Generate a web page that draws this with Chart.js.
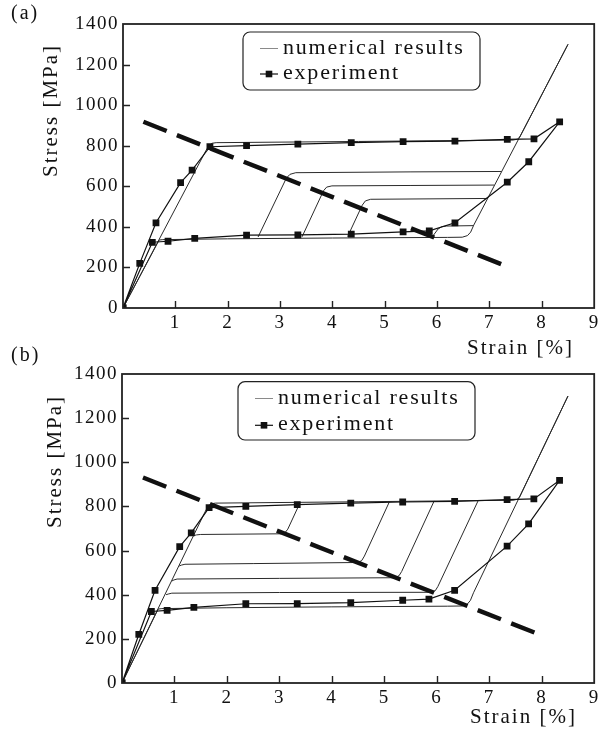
<!DOCTYPE html>
<html><head><meta charset="utf-8">
<script src="https://cdn.jsdelivr.net/npm/chart.js@4/dist/chart.umd.min.js"></script>
<style>
html,body{margin:0;padding:0;background:#fff;width:599px;height:736px;overflow:hidden;}
canvas{position:absolute;left:0;}
#ca{top:0}
#cb{top:340px}
</style></head><body>
<canvas id="ca" width="599" height="370"></canvas>
<canvas id="cb" width="599" height="396"></canvas>
<script>
// ---- axis / text ----
const xTickValues = [0,1,2,3,4,5,6,7,8,9];
const yTickValues = [0,200,400,600,800,1000,1200,1400];
const xTitle = 'Strain [%]';
const yTitle = 'Stress [MPa]';
const legendLabels = ['numerical results','experiment'];
const panelLabels = ['(a)','(b)'];

// ---- experiment (same test in both panels): [strain %, stress MPa] ----
const experiment = [[0,0],[0.32,220],[0.63,420],[1.10,618],[1.32,680],[1.66,795],[2.36,800],[3.34,808],[4.36,815],[5.35,820],[6.34,823],[7.34,831],[7.85,834],[8.34,918],[7.75,721],[7.34,620],[6.34,420],[5.85,380],[5.35,375],[4.36,364],[3.34,360],[2.36,359],[1.37,343],[0.86,329],[0.56,324],[0,0]];

// ---- numerical main loop (both panels) ----
const numMain = [[0,0],[1.58,774],[1.64,800],[1.70,812],[1.78,815],[4.5,821],[7.45,828],[7.53,832],[7.58,843],[8.5,1300],[6.70,409],[6.64,374],[6.58,357],[6.48,349],[6.2,348],[4.0,345],[2.0,341],[0.76,337],[0.69,335],[0,0]];

// ---- panel (a): reloading from the lower plateau ----
const numA1 = [[2.58,350],[3.12,640],[3.19,659],[3.30,667],[5.5,671],[7.23,673]];
const numA2 = [[3.42,351],[3.83,578],[3.89,596],[3.99,602],[5.5,604],[7.09,606]];
const numA3 = [[4.29,352],[4.57,507],[4.63,528],[4.73,536],[6.96,540]];
const numA4 = [[5.91,352],[6.02,390],[6.09,401],[6.18,404],[6.69,406]];
const trendA = [[0.39,918],[7.34,204]];

// ---- panel (b): unloading from the upper plateau ----
const numB1 = [[3.40,820],[3.16,697],[3.11,682],[3.03,676],[1.50,673],[1.42,671],[1.37,668]];
const numB2 = [[5.10,823],[4.62,575],[4.57,555],[4.50,546],[2.5,541],[1.20,538],[1.13,534],[1.09,530]];
const numB3 = [[5.95,825],[5.33,505],[5.28,486],[5.20,477],[3.0,474],[1.05,471],[0.99,467],[0.95,462]];
const numB4 = [[6.79,827],[6.02,437],[5.97,418],[5.88,411],[3.0,410],[0.95,407],[0.88,403],[0.84,400]];
const trendB = [[0.40,931],[7.91,224]];

const FONT = '"Liberation Serif", "Times New Roman", serif';
const pts = a => a.map(([x,y]) => ({x, y}));

function numDs(arr, label){
  return {label, data: pts(arr), borderColor:'#2a2a2a', borderWidth:1, pointRadius:0, tension:0, fill:false};
}
function buildDatasets(loops, trend){
  const ds = [];
  ds.push({label:'trend', data: pts(trend), borderColor:'#111', borderWidth:4.5, borderDash:[25,11], borderCapStyle:'butt', pointRadius:0, tension:0, fill:false});
  ds.push({label: legendLabels[1], data: pts(experiment), borderColor:'#111', borderWidth:1.2, pointStyle:'rect', pointRadius:4.8, pointBackgroundColor:'#111', pointBorderColor:'#111', pointBorderWidth:0, tension:0, fill:false});
  ds.push(numDs(numMain, legendLabels[0]));
  loops.forEach(l => ds.push(numDs(l, legendLabels[0])));
  return ds;
}

const deco = {
  id:'deco',
  beforeDraw(chart){ chart.ctx.letterSpacing = '1.5px'; },
  afterDraw(chart, args, o){
    const {ctx, chartArea:a, scales:{x, y}} = chart;
    ctx.save();
    ctx.strokeStyle = '#222'; ctx.lineWidth = 1.8;
    ctx.strokeRect(a.left, a.top, a.right - a.left, a.bottom - a.top);
    ctx.lineWidth = 1.4; ctx.beginPath();
    x.ticks.forEach(t => { if (t.value > 0 && t.value < 9) { const p = Math.round(x.getPixelForValue(t.value)) + 0.5; ctx.moveTo(p, a.bottom); ctx.lineTo(p, a.bottom - 7); }});
    y.ticks.forEach(t => { if (t.value > 0 && t.value < 1400) { const p = Math.round(y.getPixelForValue(t.value)) + 0.5; ctx.moveTo(a.left, p); ctx.lineTo(a.left + 7, p); }});
    ctx.stroke();

    ctx.fillStyle = '#111';
    ctx.textBaseline = 'alphabetic';
    // panel label
    ctx.font = '20px ' + FONT; ctx.letterSpacing = '2px'; ctx.textAlign = 'left';
    ctx.fillText(o.panel, o.panelPos[0], o.panelPos[1]);
    // x title
    ctx.font = '21px ' + FONT; ctx.letterSpacing = '2px';
    ctx.fillText(xTitle, o.xTitlePos[0], o.xTitlePos[1]);
    // y title
    ctx.save();
    ctx.translate(o.yTitlePos[0], o.yTitlePos[1]); ctx.rotate(-Math.PI/2);
    ctx.fillText(yTitle, 0, 0);
    ctx.restore();
    // legend
    const L = o.legend;
    ctx.strokeStyle = '#222'; ctx.lineWidth = 1.2;
    ctx.beginPath(); ctx.roundRect(L.x, L.y, L.w, L.h, 7); ctx.stroke();
    ctx.strokeStyle = '#8a8a8a'; ctx.lineWidth = 1;
    ctx.beginPath(); ctx.moveTo(L.sx0, L.rows[0]); ctx.lineTo(L.sx1, L.rows[0]); ctx.stroke();
    ctx.strokeStyle = '#111'; ctx.lineWidth = 1.2;
    ctx.beginPath(); ctx.moveTo(L.sx0, L.rows[1]); ctx.lineTo(L.sx1, L.rows[1]); ctx.stroke();
    const mx = (L.sx0 + L.sx1) / 2;
    ctx.fillRect(mx - 3.3, L.rows[1] - 3.3, 6.6, 6.6);
    ctx.font = '22px ' + FONT; ctx.letterSpacing = '1.8px';
    ctx.fillText(legendLabels[0], L.tx, L.rows[0] + 5);
    ctx.fillText(legendLabels[1], L.tx, L.rows[1] + 5);
    ctx.restore();
  }
};

function makeChart(id, datasets, pad, yW, xH, deco_opts){
  return new Chart(document.getElementById(id), {
    type:'line',
    data:{datasets},
    options:{
      responsive:false, animation:false, devicePixelRatio:1,
      layout:{padding:pad},
      plugins:{legend:{display:false}, tooltip:{enabled:false}, deco: deco_opts},
      scales:{
        x:{type:'linear', min:0, max:9, afterBuildTicks: s => { s.ticks = xTickValues.map(v => ({value:v})); },
           grid:{display:false, drawTicks:false}, border:{display:false},
           ticks:{padding:4, color:'#111', font:{family:FONT, size:19}, maxRotation:0, autoSkip:false, callback: v => v === 0 ? '' : String(v)},
           afterFit: s => { s.height = xH; s.paddingLeft = 0; s.paddingRight = 0; }},
        y:{type:'linear', min:0, max:1400, afterBuildTicks: s => { s.ticks = yTickValues.map(v => ({value:v})); },
           grid:{display:false, drawTicks:false}, border:{display:false},
           ticks:{padding:4, color:'#111', font:{family:FONT, size:19}, autoSkip:false, callback: v => String(v)},
           afterFit: s => { s.width = yW; s.paddingTop = 0; s.paddingBottom = 0; }}
      }
    },
    plugins:[deco]
  });
}

makeChart('ca', buildDatasets([numA1,numA2,numA3,numA4], trendA), {left:0, top:24, right:4, bottom:0}, 123, 62, {
  panel: panelLabels[0], panelPos:[11,19], xTitlePos:[467,354], yTitlePos:[57,177],
  legend:{x:243, y:32, w:237, h:58, rows:[48.5,74], sx0:260, sx1:278, tx:283}
});
makeChart('cb', buildDatasets([numB1,numB2,numB3,numB4], trendB), {left:0, top:34, right:1, bottom:0}, 122, 53, {
  panel: panelLabels[1], panelPos:[11,21], xTitlePos:[470,383], yTitlePos:[61,188],
  legend:{x:238, y:41.7, w:237, h:58.3, rows:[58.5,85.3], sx0:255, sx1:273, tx:278}
});
</script>
</body></html>
